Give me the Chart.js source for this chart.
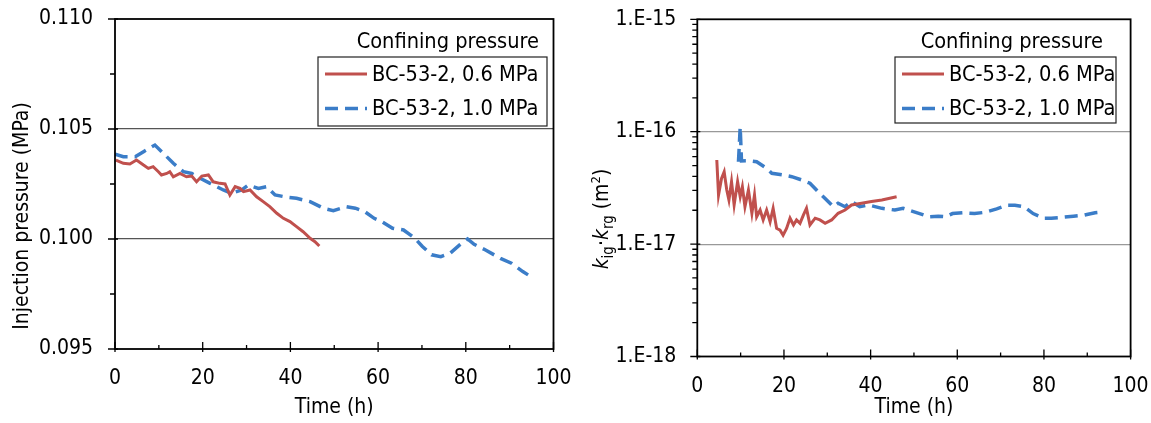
<!DOCTYPE html>
<html>
<head>
<meta charset="utf-8">
<script src="https://cdn.jsdelivr.net/npm/chart.js@4/dist/chart.umd.min.js"></script>
<style>
  body { margin: 0; background: #fff; }
  #wrap { position: relative; width: 1151px; height: 423px; }
  canvas { position: absolute; top: 0; }
  #left { left: 0; }
  #right { left: 575px; }
</style>
</head>
<body>
<div id="wrap">
  <canvas id="left" width="575" height="423"></canvas>
  <canvas id="right" width="576" height="423"></canvas>
</div>
<script>
// left panel: injection pressure (MPa) vs time (h)
const timeP06 = [0.2, 1.9, 3.4, 4.9, 6.5, 7.6, 8.7, 9.9, 10.6, 11.8, 12.5, 13.3, 14.8, 16.3, 17.5, 18.6, 19.8, 21.3, 22.4, 23.9, 25.1, 26.2, 27.4, 28.5, 29.3, 30.8, 32.3, 33.8, 35.3, 36.9, 38.4, 39.9, 41.4, 42.9, 44.5, 45.6, 46.6];
const pressP06 = [0.10359, 0.10344, 0.10341, 0.10359, 0.10336, 0.10321, 0.10329, 0.10306, 0.10291, 0.10298, 0.10306, 0.10283, 0.10298, 0.10283, 0.10286, 0.1026, 0.10286, 0.10291, 0.1026, 0.10253, 0.1025, 0.102, 0.10238, 0.1023, 0.10215, 0.10223, 0.10192, 0.1017, 0.10147, 0.10117, 0.10094, 0.10079, 0.10056, 0.10033, 0.10003, 0.09988, 0.09968];

const timeP10 = [0, 1.9, 4.6, 6.5, 9.1, 11.0, 13.3, 15.6, 17.5, 19.4, 21.7, 24.7, 26.6, 28.9, 30.4, 32.7, 34.6, 36.5, 39.2, 41.4, 44.5, 47.5, 49.8, 52.8, 54.8, 56.9, 59.1, 60.8, 63.3, 65.8, 68.4, 70.1, 72.2, 74.3, 76.4, 78.6, 80.4, 81.9, 84.5, 87.9, 90.4, 93, 94.2];
const pressP10 = [0.10386, 0.10374, 0.10374, 0.10397, 0.10427, 0.1039, 0.10344, 0.10306, 0.10298, 0.10276, 0.10253, 0.10223, 0.10208, 0.10223, 0.10245, 0.1023, 0.10238, 0.102, 0.1019, 0.10185, 0.1017, 0.1014, 0.10129, 0.10147, 0.1014, 0.10125, 0.10094, 0.10079, 0.10049, 0.10041, 0.10003, 0.09966, 0.09928, 0.0992, 0.09935, 0.09973, 0.1, 0.09976, 0.0995, 0.09912, 0.0989, 0.09852, 0.09837];

// right panel: k_ig * k_rg (m2) vs time (h)
const timeK06 = [4.5, 4.9, 5.6, 6.2, 6.8, 7.3, 7.9, 8.5, 9.3, 9.9, 10.4, 11.0, 11.8, 12.6, 13.2, 13.7, 14.5, 15.2, 16.0, 16.8, 17.5, 18.3, 19.1, 19.8, 20.6, 21.4, 22.2, 22.9, 23.7, 24.5, 25.2, 26.0, 27.2, 28.3, 29.5, 31.0, 32.5, 34.1, 35.6, 37.9, 40.2, 42.6, 46.0];
const permK06 = [5.6e-17, 2.73e-17, 3.85e-17, 4.4e-17, 3.03e-17, 2.47e-17, 3.59e-17, 2.23e-17, 3.59e-17, 2.64e-17, 3.24e-17, 2.15e-17, 3.03e-17, 1.88e-17, 2.73e-17, 1.75e-17, 2.01e-17, 1.64e-17, 2.01e-17, 1.58e-17, 2.08e-17, 1.38e-17, 1.33e-17, 1.2e-17, 1.38e-17, 1.7e-17, 1.48e-17, 1.64e-17, 1.53e-17, 1.82e-17, 2.08e-17, 1.48e-17, 1.7e-17, 1.64e-17, 1.53e-17, 1.64e-17, 1.88e-17, 2.01e-17, 2.23e-17, 2.31e-17, 2.39e-17, 2.47e-17, 2.64e-17];

const timeK10 = [9.5, 9.9, 10.2, 11.8, 13.7, 16.0, 17.2, 19.8, 21.8, 24.1, 26.0, 27.9, 29.5, 31.4, 32.5, 34.1, 35.6, 37.5, 39.5, 42.6, 45.6, 47.5, 51.3, 53.5, 55.6, 57.3, 58.9, 61.5, 64.0, 66.5, 69.1, 71.6, 73.3, 75.4, 77.5, 80.0, 81.7, 84.2, 86.8, 89.3, 91.8, 93.5];
const permK10 = [5.4e-17, 1.1e-16, 5.5e-17, 5.52e-17, 5.4e-17, 4.72e-17, 4.27e-17, 4.12e-17, 3.98e-17, 3.72e-17, 3.48e-17, 2.92e-17, 2.55e-17, 2.15e-17, 2.31e-17, 2.15e-17, 2.39e-17, 2.15e-17, 2.23e-17, 2.08e-17, 2.01e-17, 2.08e-17, 1.87e-17, 1.75e-17, 1.77e-17, 1.75e-17, 1.87e-17, 1.9e-17, 1.87e-17, 1.92e-17, 2.06e-17, 2.22e-17, 2.22e-17, 2.15e-17, 1.87e-17, 1.7e-17, 1.7e-17, 1.73e-17, 1.77e-17, 1.81e-17, 1.9e-17, 1.93e-17];

const seriesLabels = ['BC-53-2, 0.6 MPa', 'BC-53-2, 1.0 MPa'];
const legendTitle = 'Confining pressure';

const xTicks = [0, 20, 40, 60, 80, 100];
const xMinor = [10, 30, 50, 70, 90];
const yTicksPress = [0.095, 0.100, 0.105, 0.110];
const yMinorPress = [0.0975, 0.1025, 0.1075];
const yTicksPerm = [1e-18, 1e-17, 1e-16, 1e-15];
const yMinorPerm = [];
[1e-18, 1e-17, 1e-16].forEach(d => { for (let m = 2; m <= 9; m++) yMinorPerm.push(m * d); });

const FONT = '"DejaVu Sans Condensed", "DejaVu Sans", sans-serif';
const FS = 21;
const LFS = 21.6;
const RED = '#c0504d';
const BLUE = '#3b7dc8';
const NONE = 'rgba(0,0,0,0)';

function toPoints(xs, ys) {
  return xs.map((x, i) => ({ x: x, y: ys[i] }));
}

function makeDatasets(x1, y1, x2, y2) {
  return [
    { label: seriesLabels[0], data: toPoints(x1, y1), borderColor: RED, borderWidth: 3, pointRadius: 0, tension: 0 },
    { label: seriesLabels[1], data: toPoints(x2, y2), borderColor: BLUE, borderWidth: 3.5, borderDash: [13, 7], pointRadius: 0, tension: 0 }
  ];
}

// axis frame, tick marks, legend box and y title, Excel style
const framePlugin = {
  id: 'frame',
  afterDraw(chart, args, opts) {
    const ctx = chart.ctx;
    const a = chart.chartArea;
    const x = chart.scales.x, y = chart.scales.y;
    ctx.save();
    ctx.strokeStyle = '#000';
    ctx.lineWidth = 1.3;
    ctx.beginPath();
    xTicks.forEach(v => { const p = x.getPixelForValue(v); ctx.moveTo(p, a.bottom - 7); ctx.lineTo(p, a.bottom + 3); });
    xMinor.forEach(v => { const p = x.getPixelForValue(v); ctx.moveTo(p, a.bottom - 4); ctx.lineTo(p, a.bottom); });
    opts.yMajor.forEach(v => { const p = y.getPixelForValue(v); ctx.moveTo(a.left - 7, p); ctx.lineTo(a.left + 3, p); });
    opts.yMinor.forEach(v => { const p = y.getPixelForValue(v); ctx.moveTo(a.left - 5, p); ctx.lineTo(a.left, p); });
    ctx.stroke();
    ctx.lineWidth = 1.8;
    ctx.strokeRect(a.left, a.top, a.right - a.left, a.bottom - a.top);

    // legend
    const b = opts.box;
    ctx.fillStyle = '#fff';
    ctx.fillRect(b.x, b.y, b.w, b.h);
    ctx.strokeStyle = '#222';
    ctx.lineWidth = 1.2;
    ctx.strokeRect(b.x, b.y, b.w, b.h);
    ctx.font = LFS + 'px ' + FONT;
    ctx.fillStyle = '#000';
    ctx.textBaseline = 'middle';
    ctx.textAlign = 'right';
    ctx.fillText(legendTitle, b.x + b.w - opts.titleInset, b.y - 15);
    ctx.textAlign = 'left';
    chart.data.datasets.forEach((ds, i) => {
      const ry = b.y + 17 + i * 34.5;
      ctx.strokeStyle = ds.borderColor;
      ctx.lineWidth = ds.borderWidth;
      ctx.setLineDash(ds.borderDash || []);
      ctx.beginPath();
      ctx.moveTo(b.x + 7, ry);
      ctx.lineTo(b.x + 49, ry);
      ctx.stroke();
      ctx.setLineDash([]);
      ctx.fillText(ds.label, b.x + 54, ry + 1);
    });

    // rotated y title, built from pieces
    ctx.translate(opts.title.x, opts.title.y);
    ctx.rotate(-Math.PI / 2);
    ctx.textAlign = 'left';
    ctx.textBaseline = 'alphabetic';
    const parts = opts.title.parts;
    let total = 0;
    parts.forEach(p => {
      ctx.font = (p.italic ? 'italic ' : '') + (p.size || FS) + 'px ' + FONT;
      p.w = ctx.measureText(p.t).width;
      total += p.w;
    });
    let cx = -total / 2;
    parts.forEach(p => {
      ctx.font = (p.italic ? 'italic ' : '') + (p.size || FS) + 'px ' + FONT;
      ctx.fillText(p.t, cx, 7.5 + (p.dy || 0));
      cx += p.w;
    });
    ctx.restore();
  }
};

function baseOptions(o) {
  return {
    responsive: false,
    animation: false,
    devicePixelRatio: 1,
    layout: { padding: o.padding },
    plugins: {
      legend: { display: false },
      tooltip: { enabled: false },
      frame: o.frame
    },
    scales: {
      x: {
        type: 'linear',
        min: 0,
        max: 100,
        afterFit: s => { s.height = o.xHeight; },
        afterBuildTicks: s => { s.ticks = xTicks.map(v => ({ value: v })); },
        ticks: { color: '#000', font: { family: FONT, size: FS }, padding: 0, maxRotation: 0, autoSkip: false, callback: v => String(v) },
        // invisible tick marks only push the labels down
        grid: { display: true, drawOnChartArea: false, drawTicks: true, tickLength: 17, color: NONE, tickColor: NONE },
        border: { display: false },
        title: { display: true, text: 'Time (h)', color: '#000', font: { family: FONT, size: FS }, padding: { top: 0, bottom: 3 } }
      },
      y: o.y
    }
  };
}

new Chart(document.getElementById('left'), {
  type: 'line',
  data: { datasets: makeDatasets(timeP06, pressP06, timeP10, pressP10) },
  options: baseOptions({
    padding: { left: 0, right: 21.5, top: 19, bottom: 0 },
    xHeight: 74,
    y: {
      type: 'linear',
      min: 0.095,
      max: 0.110,
      afterFit: s => { s.width = 115; },
      afterBuildTicks: s => { s.ticks = yTicksPress.map(v => ({ value: v })); },
      ticks: { color: '#000', font: { family: FONT, size: FS }, padding: 0, autoSkip: false, callback: v => v.toFixed(3) },
      grid: {
        drawTicks: true,
        tickLength: 22,
        tickColor: NONE,
        lineWidth: 1.2,
        color: c => (c.tick && c.tick.value > 0.0955 && c.tick.value < 0.1095) ? '#555' : NONE
      },
      border: { display: false }
    },
    frame: {
      yMajor: yTicksPress,
      yMinor: yMinorPress,
      box: { x: 318, y: 57, w: 229, h: 69 },
      titleInset: 8,
      title: { x: 20, y: 216, parts: [{ t: 'Injection pressure (MPa)' }] }
    }
  }),
  plugins: [framePlugin]
});

new Chart(document.getElementById('right'), {
  type: 'line',
  data: { datasets: makeDatasets(timeK06, permK06, timeK10, permK10) },
  options: baseOptions({
    padding: { left: 0, right: 20.4, top: 19.3, bottom: 0 },
    xHeight: 66.5,
    y: {
      type: 'logarithmic',
      min: 1e-18,
      max: 1e-15,
      afterFit: s => { s.width = 122.3; },
      afterBuildTicks: s => { s.ticks = yTicksPerm.map(v => ({ value: v })); },
      ticks: {
        color: '#000', font: { family: FONT, size: FS }, padding: 0, autoSkip: false,
        callback: v => '1.E' + Math.round(Math.log10(v))
      },
      grid: {
        drawTicks: true,
        tickLength: 21,
        tickColor: NONE,
        lineWidth: 1.2,
        color: c => (c.tick && c.tick.value > 2e-18 && c.tick.value < 5e-16) ? '#999' : NONE
      },
      border: { display: false }
    },
    frame: {
      yMajor: yTicksPerm,
      yMinor: yMinorPerm,
      box: { x: 320, y: 57, w: 221, h: 66 },
      titleInset: 13,
      title: {
        x: 25, y: 219,
        parts: [
          { t: 'k', italic: true },
          { t: 'ig', size: 15, dy: 5 },
          { t: '\u00b7' },
          { t: 'k', italic: true },
          { t: 'rg', size: 15, dy: 5 },
          { t: ' (m' },
          { t: '2', size: 13, dy: -8 },
          { t: ')' }
        ]
      }
    }
  }),
  plugins: [framePlugin]
});
</script>
</body>
</html>
